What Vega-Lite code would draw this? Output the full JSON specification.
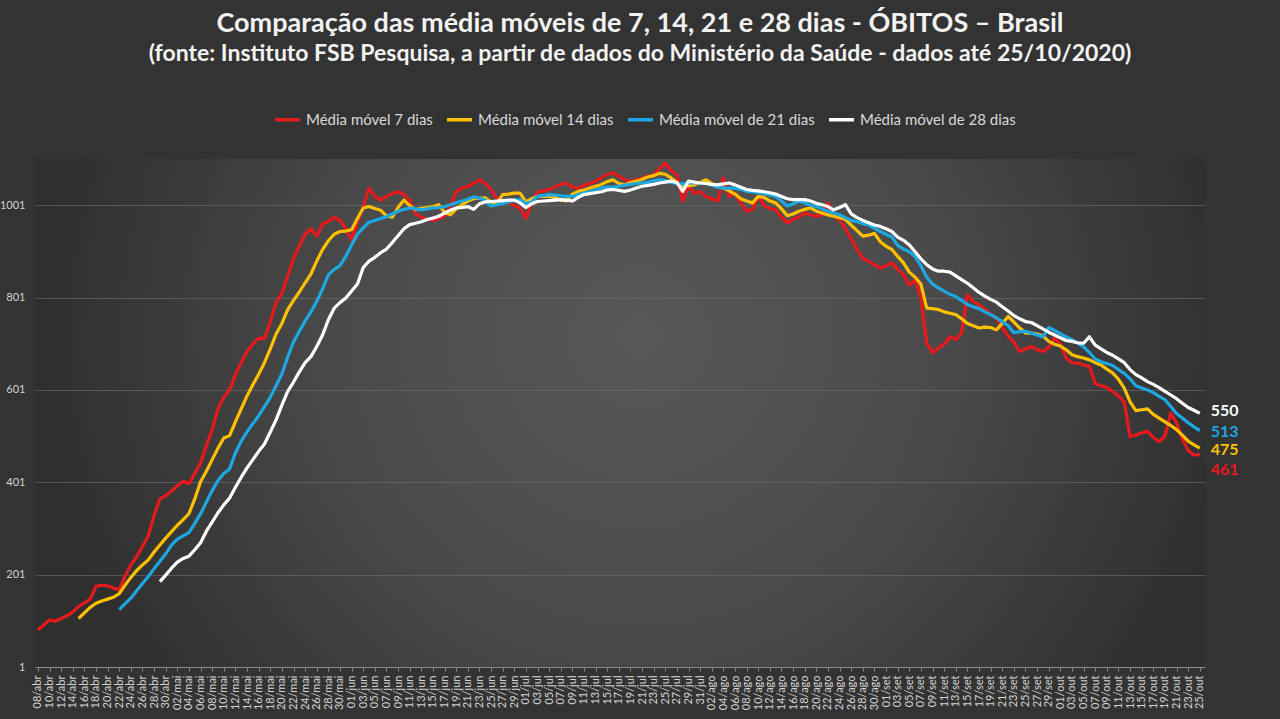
{
"$schema":"https://vega.github.io/schema/vega-lite/v6.json",
"width":1170,"height":508,
"autosize":{"type":"none"},
"padding":{"left":35,"top":159,"right":75,"bottom":52},
"background":"#333333",
"title":{"text":"Comparação das média móveis de 7, 14, 21 e 28 dias - ÓBITOS – Brasil","subtitle":"(fonte: Instituto FSB Pesquisa, a partir de dados do Ministério da Saúde - dados até 25/10/2020)","anchor":"middle","frame":"group","dx":20,"offset":38,"font":"Lato","fontSize":27,"fontWeight":"bold","color":"#f2f2f2","subtitleFont":"Lato","subtitleFontSize":23,"subtitleFontWeight":"bold","subtitleColor":"#f2f2f2","subtitlePadding":5},
"config":{"view":{"stroke":null,"fill":{"gradient":"radial","x1":0.517,"y1":0.435,"r1":0,"x2":0.517,"y2":0.435,"r2":0.513,"stops":[{"offset":0,"color":"#585858"},{"offset":0.5,"color":"#4a4a4a"},{"offset":1,"color":"#2f2f2f"}]}},"axis":{"labelFont":"Lato","labelColor":"#d4d4d4","labelFontSize":11}},
"data":{"values":[
{"i":0,"m7":81},{"i":1,"m7":92},{"i":2,"m7":103},{"i":3,"m7":100},{"i":4,"m7":106},{"i":5,"m7":112},{"i":6,"m7":120},
{"i":7,"m7":132,"m14":106},{"i":8,"m7":140,"m14":118},{"i":9,"m7":148,"m14":130},{"i":10,"m7":176,"m14":139},{"i":11,"m7":178,"m14":144},{"i":12,"m7":177,"m14":148},{"i":13,"m7":172,"m14":152},
{"i":14,"m7":168,"m14":160,"m21":125},{"i":15,"m7":198,"m14":178,"m21":138},{"i":16,"m7":222,"m14":195,"m21":150},{"i":17,"m7":240,"m14":210,"m21":166},{"i":18,"m7":262,"m14":222,"m21":182},{"i":19,"m7":285,"m14":233,"m21":197},{"i":20,"m7":330,"m14":250,"m21":214},
{"i":21,"m7":365,"m14":265,"m21":230,"m28":186},{"i":22,"m7":372,"m14":280,"m21":246,"m28":200},{"i":23,"m7":382,"m14":294,"m21":265,"m28":215},{"i":24,"m7":393,"m14":308,"m21":278,"m28":228},{"i":25,"m7":403,"m14":320,"m21":285,"m28":236},{"i":26,"m7":398,"m14":333,"m21":292,"m28":241},{"i":27,"m7":420,"m14":365,"m21":312,"m28":255},{"i":28,"m7":443,"m14":402,"m21":333,"m28":270},{"i":29,"m7":480,"m14":425,"m21":358,"m28":295},{"i":30,"m7":515,"m14":450,"m21":383,"m28":315},
{"i":31,"m7":560,"m14":475,"m21":405,"m28":335},{"i":32,"m7":585,"m14":497,"m21":420,"m28":352},{"i":33,"m7":601,"m14":502,"m21":430,"m28":367},{"i":34,"m7":634,"m14":532,"m21":465,"m28":390},{"i":35,"m7":660,"m14":560,"m21":490,"m28":412},{"i":36,"m7":684,"m14":588,"m21":510,"m28":432},{"i":37,"m7":700,"m14":612,"m21":528,"m28":450},{"i":38,"m7":713,"m14":635,"m21":545,"m28":468},{"i":39,"m7":712,"m14":660,"m21":565,"m28":484},{"i":40,"m7":748,"m14":690,"m21":585,"m28":510},
{"i":41,"m7":790,"m14":722,"m21":610,"m28":536},{"i":42,"m7":810,"m14":745,"m21":636,"m28":568},{"i":43,"m7":848,"m14":775,"m21":672,"m28":598},{"i":44,"m7":885,"m14":795,"m21":705,"m28":618},{"i":45,"m7":912,"m14":813,"m21":728,"m28":640},{"i":46,"m7":938,"m14":833,"m21":750,"m28":660},{"i":47,"m7":950,"m14":852,"m21":770,"m28":673},{"i":48,"m7":934,"m14":880,"m21":793,"m28":695},{"i":49,"m7":960,"m14":905,"m21":820,"m28":720},{"i":50,"m7":966,"m14":924,"m21":850,"m28":753},
{"i":51,"m7":975,"m14":938,"m21":862,"m28":778},{"i":52,"m7":968,"m14":944,"m21":870,"m28":790},{"i":53,"m7":950,"m14":945,"m21":890,"m28":800},{"i":54,"m7":926,"m14":948,"m21":915,"m28":815},{"i":55,"m7":965,"m14":972,"m21":938,"m28":830},{"i":56,"m7":998,"m14":995,"m21":952,"m28":866},{"i":57,"m7":1038,"m14":998,"m21":964,"m28":880},{"i":58,"m7":1020,"m14":994,"m21":968,"m28":888},{"i":59,"m7":1012,"m14":990,"m21":972,"m28":898},{"i":60,"m7":1020,"m14":978,"m21":976,"m28":906},
{"i":61,"m7":1026,"m14":975,"m21":982,"m28":920},{"i":62,"m7":1030,"m14":996,"m21":988,"m28":935},{"i":63,"m7":1024,"m14":1012,"m21":992,"m28":950},{"i":64,"m7":1012,"m14":1000,"m21":995,"m28":959},{"i":65,"m7":982,"m14":991,"m21":993,"m28":962},{"i":66,"m7":975,"m14":994,"m21":991,"m28":965},{"i":67,"m7":970,"m14":996,"m21":993,"m28":970},{"i":68,"m7":968,"m14":998,"m21":995,"m28":973},{"i":69,"m7":972,"m14":1002,"m21":996,"m28":977},{"i":70,"m7":977,"m14":985,"m21":998,"m28":984},
{"i":71,"m7":1000,"m14":980,"m21":1002,"m28":990},{"i":72,"m7":1030,"m14":993,"m21":1006,"m28":995},{"i":73,"m7":1038,"m14":1002,"m21":1010,"m28":996},{"i":74,"m7":1042,"m14":1010,"m21":1014,"m28":998},{"i":75,"m7":1048,"m14":1015,"m21":1019,"m28":992},{"i":76,"m7":1056,"m14":1016,"m21":1016,"m28":1004},{"i":77,"m7":1048,"m14":1017,"m21":1012,"m28":1008},{"i":78,"m7":1035,"m14":1008,"m21":999,"m28":1009},{"i":79,"m7":1015,"m14":1005,"m21":1002,"m28":1010},{"i":80,"m7":1010,"m14":1024,"m21":1005,"m28":1011},
{"i":81,"m7":1008,"m14":1025,"m21":1008,"m28":1012},{"i":82,"m7":1000,"m14":1027,"m21":1012,"m28":1012},{"i":83,"m7":995,"m14":1027,"m21":1013,"m28":1006},{"i":84,"m7":973,"m14":1008,"m21":1005,"m28":996},{"i":85,"m7":1005,"m14":1015,"m21":1008,"m28":1004},{"i":86,"m7":1030,"m14":1020,"m21":1020,"m28":1009},{"i":87,"m7":1032,"m14":1020,"m21":1022,"m28":1010},{"i":88,"m7":1035,"m14":1020,"m21":1024,"m28":1011},{"i":89,"m7":1040,"m14":1018,"m21":1023,"m28":1012},{"i":90,"m7":1046,"m14":1012,"m21":1021,"m28":1013},
{"i":91,"m7":1049,"m14":1010,"m21":1020,"m28":1012},{"i":92,"m7":1040,"m14":1025,"m21":1020,"m28":1010},{"i":93,"m7":1038,"m14":1031,"m21":1024,"m28":1018},{"i":94,"m7":1044,"m14":1034,"m21":1027,"m28":1024},{"i":95,"m7":1048,"m14":1038,"m21":1030,"m28":1026},{"i":96,"m7":1053,"m14":1042,"m21":1034,"m28":1028},{"i":97,"m7":1060,"m14":1046,"m21":1038,"m28":1030},{"i":98,"m7":1068,"m14":1052,"m21":1040,"m28":1034},{"i":99,"m7":1071,"m14":1056,"m21":1040,"m28":1035},{"i":100,"m7":1064,"m14":1048,"m21":1042,"m28":1033},
{"i":101,"m7":1056,"m14":1045,"m21":1044,"m28":1031},{"i":102,"m7":1053,"m14":1050,"m21":1046,"m28":1034},{"i":103,"m7":1056,"m14":1053,"m21":1048,"m28":1038},{"i":104,"m7":1060,"m14":1057,"m21":1049,"m28":1042},{"i":105,"m7":1064,"m14":1062,"m21":1051,"m28":1044},{"i":106,"m7":1067,"m14":1065,"m21":1054,"m28":1046},{"i":107,"m7":1080,"m14":1070,"m21":1056,"m28":1049},{"i":108,"m7":1092,"m14":1068,"m21":1055,"m28":1051},{"i":109,"m7":1076,"m14":1060,"m21":1050,"m28":1053},{"i":110,"m7":1067,"m14":1050,"m21":1048,"m28":1050},
{"i":111,"m7":1010,"m14":1042,"m21":1047,"m28":1031},{"i":112,"m7":1042,"m14":1043,"m21":1049,"m28":1053},{"i":113,"m7":1027,"m14":1045,"m21":1050,"m28":1051},{"i":114,"m7":1030,"m14":1050,"m21":1049,"m28":1049},{"i":115,"m7":1020,"m14":1056,"m21":1048,"m28":1048},{"i":116,"m7":1015,"m14":1048,"m21":1044,"m28":1046},{"i":117,"m7":1010,"m14":1042,"m21":1040,"m28":1045},{"i":118,"m7":1060,"m14":1038,"m21":1038,"m28":1047},{"i":119,"m7":1020,"m14":1032,"m21":1038,"m28":1049},{"i":120,"m7":1027,"m14":1025,"m21":1038,"m28":1045},
{"i":121,"m7":1005,"m14":1015,"m21":1035,"m28":1040},{"i":122,"m7":988,"m14":1010,"m21":1031,"m28":1035},{"i":123,"m7":992,"m14":1006,"m21":1030,"m28":1033},{"i":124,"m7":1020,"m14":1020,"m21":1028,"m28":1032},{"i":125,"m7":1000,"m14":1018,"m21":1026,"m28":1030},{"i":126,"m7":994,"m14":1010,"m21":1023,"m28":1028},{"i":127,"m7":991,"m14":1006,"m21":1020,"m28":1025},{"i":128,"m7":975,"m14":993,"m21":1010,"m28":1020},{"i":129,"m7":963,"m14":978,"m21":999,"m28":1015},{"i":130,"m7":970,"m14":982,"m21":1004,"m28":1013},
{"i":131,"m7":976,"m14":988,"m21":1010,"m28":1013},{"i":132,"m7":984,"m14":992,"m21":1006,"m28":1013},{"i":133,"m7":980,"m14":995,"m21":1001,"m28":1010},{"i":134,"m7":977,"m14":988,"m21":998,"m28":1005},{"i":135,"m7":980,"m14":984,"m21":993,"m28":1002},{"i":136,"m7":1006,"m14":980,"m21":988,"m28":998},{"i":137,"m7":978,"m14":977,"m21":984,"m28":991},{"i":138,"m7":968,"m14":974,"m21":980,"m28":996},{"i":139,"m7":950,"m14":970,"m21":974,"m28":1002},{"i":140,"m7":928,"m14":958,"m21":968,"m28":982},
{"i":141,"m7":905,"m14":946,"m21":965,"m28":974},{"i":142,"m7":886,"m14":934,"m21":961,"m28":968},{"i":143,"m7":880,"m14":936,"m21":958,"m28":963},{"i":144,"m7":872,"m14":940,"m21":951,"m28":958},{"i":145,"m7":865,"m14":922,"m21":944,"m28":955},{"i":146,"m7":870,"m14":912,"m21":938,"m28":950},{"i":147,"m7":876,"m14":905,"m21":932,"m28":944},{"i":148,"m7":862,"m14":890,"m21":914,"m28":932},{"i":149,"m7":850,"m14":876,"m21":906,"m28":925},{"i":150,"m7":828,"m14":856,"m21":900,"m28":915},
{"i":151,"m7":840,"m14":845,"m21":890,"m28":900},{"i":152,"m7":800,"m14":830,"m21":870,"m28":885},{"i":153,"m7":702,"m14":778,"m21":845,"m28":872},{"i":154,"m7":681,"m14":777,"m21":830,"m28":863},{"i":155,"m7":692,"m14":775,"m21":822,"m28":858},{"i":156,"m7":700,"m14":770,"m21":815,"m28":858},{"i":157,"m7":716,"m14":767,"m21":808,"m28":856},{"i":158,"m7":710,"m14":764,"m21":803,"m28":848},{"i":159,"m7":724,"m14":755,"m21":795,"m28":840},{"i":160,"m7":807,"m14":745,"m21":786,"m28":832},
{"i":161,"m7":793,"m14":740,"m21":781,"m28":822},{"i":162,"m7":785,"m14":735,"m21":777,"m28":812},{"i":163,"m7":776,"m14":737,"m21":770,"m28":804},{"i":164,"m7":765,"m14":736,"m21":764,"m28":797},{"i":165,"m7":756,"m14":731,"m21":757,"m28":791},{"i":166,"m7":735,"m14":745,"m21":749,"m28":781},{"i":167,"m7":718,"m14":760,"m21":740,"m28":772},{"i":168,"m7":704,"m14":748,"m21":725,"m28":762},{"i":169,"m7":684,"m14":735,"m21":727,"m28":755},{"i":170,"m7":690,"m14":724,"m21":728,"m28":749},
{"i":171,"m7":695,"m14":724,"m21":724,"m28":747},{"i":172,"m7":688,"m14":722,"m21":720,"m28":740},{"i":173,"m7":684,"m14":718,"m21":716,"m28":733},{"i":174,"m7":693,"m14":706,"m21":736,"m28":726},{"i":175,"m7":713,"m14":700,"m21":730,"m28":720},{"i":176,"m7":700,"m14":696,"m21":723,"m28":714},{"i":177,"m7":670,"m14":688,"m21":716,"m28":708},{"i":178,"m7":660,"m14":677,"m21":710,"m28":706},{"i":179,"m7":659,"m14":673,"m21":702,"m28":703},{"i":180,"m7":655,"m14":670,"m21":694,"m28":702},
{"i":181,"m7":652,"m14":666,"m21":682,"m28":716},{"i":182,"m7":615,"m14":660,"m21":668,"m28":698},{"i":183,"m7":610,"m14":655,"m21":662,"m28":690},{"i":184,"m7":606,"m14":646,"m21":658,"m28":682},{"i":185,"m7":598,"m14":638,"m21":654,"m28":676},{"i":186,"m7":588,"m14":624,"m21":645,"m28":668},{"i":187,"m7":575,"m14":605,"m21":637,"m28":660},{"i":188,"m7":500,"m14":575,"m21":625,"m28":645},{"i":189,"m7":503,"m14":556,"m21":610,"m28":634},{"i":190,"m7":508,"m14":558,"m21":605,"m28":627},
{"i":191,"m7":511,"m14":560,"m21":601,"m28":619},{"i":192,"m7":498,"m14":548,"m21":595,"m28":613},{"i":193,"m7":489,"m14":540,"m21":587,"m28":606},{"i":194,"m7":500,"m14":532,"m21":580,"m28":598},{"i":195,"m7":551,"m14":524,"m21":565,"m28":590},{"i":196,"m7":530,"m14":515,"m21":550,"m28":582},{"i":197,"m7":495,"m14":503,"m21":540,"m28":572},{"i":198,"m7":470,"m14":490,"m21":530,"m28":563},{"i":199,"m7":460,"m14":482,"m21":521,"m28":557},{"i":200,"m7":461,"m14":475,"m21":513,"m28":550}
]},
"transform":[{"fold":["m7","m14","m21","m28"],"as":["k","v"]},{"filter":"isValid(datum.v)"}],
"layer":[
{"mark":{"type":"line","strokeWidth":3.2,"strokeJoin":"round"},
 "encoding":{
  "x":{"field":"i","type":"quantitative","scale":{"domain":[-0.5,200.9],"nice":false,"zero":false},
       "axis":{"title":null,"tickCount":100,"labelOverlap":false,"labelFlush":false,"labelAngle":-90,"labelPadding":4,"domainColor":"#8a8a8a","tickColor":"#8a8a8a","tickSize":4,"grid":false,
       "labelExpr":"timeFormat(datetime(2020,3,8+datum.value),'%d')+'/'+['jan','fev','mar','abr','mai','jun','jul','ago','set','out','nov','dez'][month(datetime(2020,3,8+datum.value))]"}},
  "y":{"field":"v","type":"quantitative","scale":{"domain":[1,1101],"nice":false,"zero":false},
       "axis":{"title":null,"values":[1,201,401,601,801,1001],"format":"d","domain":false,"ticks":false,"labelPadding":10,"gridColor":"#707070","gridOpacity":0.6,"gridWidth":1}},
  "color":{"field":"k","type":"nominal","scale":{"domain":["m7","m14","m21","m28"],"range":["#e8191c","#ffc000","#1ca8e2","#ffffff"]},
       "legend":{"title":null,"orient":"none","legendX":238,"legendY":-54,"direction":"horizontal","symbolType":"stroke","symbolStrokeWidth":3.5,"symbolSize":625,"labelFont":"Lato","labelFontSize":15,"labelColor":"#d9d9d9","columnPadding":7,
       "labelExpr":"datum.value=='m7'?'Média móvel 7 dias':datum.value=='m14'?'Média móvel 14 dias':datum.value=='m21'?'Média móvel de 21 dias':'Média móvel de 28 dias'"}}
 }},
{"transform":[{"filter":"datum.i==200 && datum.k=='m28'"}],"mark":{"type":"text","align":"left","dx":11,"dy":-2,"font":"Lato","fontSize":16,"fontWeight":"bold","color":"#ffffff"},
 "encoding":{"x":{"field":"i","type":"quantitative"},"y":{"field":"v","type":"quantitative"},"text":{"field":"v","type":"quantitative","format":"d"}}},
{"transform":[{"filter":"datum.i==200 && datum.k=='m21'"}],"mark":{"type":"text","align":"left","dx":11,"dy":1,"font":"Lato","fontSize":16,"fontWeight":"bold","color":"#1ca8e2"},
 "encoding":{"x":{"field":"i","type":"quantitative"},"y":{"field":"v","type":"quantitative"},"text":{"field":"v","type":"quantitative","format":"d"}}},
{"transform":[{"filter":"datum.i==200 && datum.k=='m14'"}],"mark":{"type":"text","align":"left","dx":11,"dy":2,"font":"Lato","fontSize":16,"fontWeight":"bold","color":"#ffc000"},
 "encoding":{"x":{"field":"i","type":"quantitative"},"y":{"field":"v","type":"quantitative"},"text":{"field":"v","type":"quantitative","format":"d"}}},
{"transform":[{"filter":"datum.i==200 && datum.k=='m7'"}],"mark":{"type":"text","align":"left","dx":11,"dy":15,"font":"Lato","fontSize":16,"fontWeight":"bold","color":"#e8191c"},
 "encoding":{"x":{"field":"i","type":"quantitative"},"y":{"field":"v","type":"quantitative"},"text":{"field":"v","type":"quantitative","format":"d"}}}
]
}
